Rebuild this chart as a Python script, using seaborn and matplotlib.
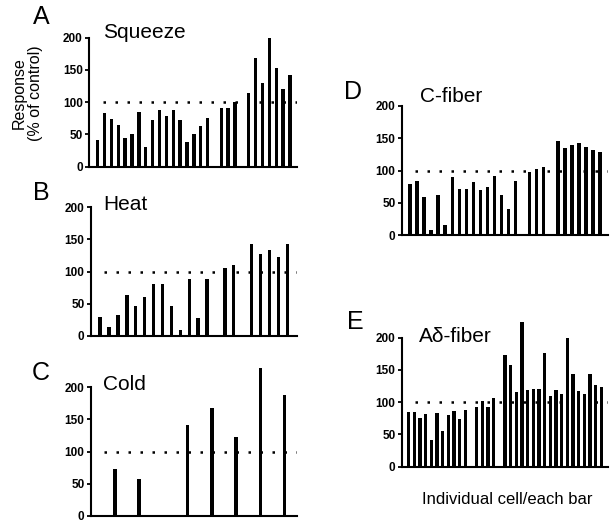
import numpy as np
import pandas as pd
import matplotlib
matplotlib.use('Agg')
import matplotlib.pyplot as plt
import seaborn as sns

# response (% of control) per cell; None = empty slot between groups
squeeze = [42, 83, 74, 64, 45, 51, 85, 30, 72, 88, 79, 88, 72, 38, 50, 63, 75, None,
           91, 91, 100, None, 115, 168, 130, 199, 153, 120, 142]
heat = [29, 14, 33, 64, 46, 61, 80, 80, 47, 10, 89, 28, 89, None,
        106, 110, None, 143, 127, 134, 122, 143]
cold = [73, 58, None, 141, 168, 123, 230, 188]
c_fiber = [79, 83, 59, 8, 62, 15, 90, 72, 71, 82, 69, 74, 91, 62, 41, 83, None,
           97, 103, 105, None, 146, 135, 140, 143, 137, 132, 129]
a_delta = [85, 85, 76, 81, 42, 83, 55, 80, 87, 74, 88, None,
           93, 102, 93, 106, None,
           173, 158, 116, 224, 119, 121, 121, 176, 109, 119, 112, 199, 143, 117, 113, 144, 127, 124]

letters = ['A', 'B', 'C', 'D', 'E']
titles = ['Squeeze', 'Heat', 'Cold', 'C-fiber', 'A\u03b4-fiber']
series = [squeeze, heat, cold, c_fiber, a_delta]
yticks = [0, 50, 100, 150, 200]

sns.set_style('ticks', {'axes.edgecolor': 'black', 'xtick.color': 'black',
                        'ytick.color': 'black', 'text.color': 'black',
                        'axes.labelcolor': 'black'})
plt.rcParams['font.family'] = ['Liberation Sans', 'DejaVu Sans']

W, H = 610, 525
YTOP = 235
AX_H = 64.5 * YTOP / 100   # pixels
BAR_PX = 3.4

# layout in pixels: axis left, y of zero line, axis right, slot padding left/right,
# panel letter position, title position
layout = [
    (89, 166.7, 297, 1.27, 1.02, (41, 17), (103, 33)),
    (90.7, 336, 297, 1.05, 1.09, (41, 193), (103, 204)),
    (90.7, 516, 297, 1.0, 0.51, (41, 373), (103, 385)),
    (401.7, 235, 608, 1.18, 1.13, (353, 92), (420, 96)),
    (401.7, 466.7, 608, 1.23, 1.2, (355, 322), (419, 336)),
]

fig = plt.figure(figsize=(W / 100, H / 100), dpi=100)

for letter, title, vals, (left, y0, right, padl, padr, lpos, tpos) in zip(letters, titles, series, layout):
    ax = fig.add_axes([left / W, (H - y0) / H, (right - left) / W, AX_H / H])
    df = pd.DataFrame({'cell': np.arange(len(vals)), 'resp': vals}).dropna()
    xlo, xhi = -padl, len(vals) - 1 + padr
    width = BAR_PX * (xhi - xlo) / (right - left)
    sns.barplot(data=df, x='cell', y='resp', native_scale=True, width=width,
                color='black', saturation=1, errorbar=None, linewidth=0, ax=ax)
    ax.set_xlim(xlo, xhi)
    ax.set_ylim(0, YTOP)
    ax.axhline(100, xmin=0.065, xmax=1, color='black', lw=1.8,
               linestyle=(0, (1, 3.8)), zorder=0)
    ax.spines[['top', 'right']].set_visible(False)
    ax.spines['left'].set_bounds(0, 200)
    for s in ['left', 'bottom']:
        ax.spines[s].set_linewidth(1.5)
    ax.set_yticks(yticks)
    ax.set_xticks([])
    ax.set_xlabel('')
    ax.set_ylabel('')
    ax.tick_params(axis='y', labelsize=8.5, length=3, width=1.3, pad=1.5)
    for lab in ax.get_yticklabels():
        lab.set_fontweight('bold')
    fig.text(lpos[0] / W, 1 - lpos[1] / H, letter, fontsize=18, ha='center', va='center')
    fig.text(tpos[0] / W, 1 - tpos[1] / H, title, fontsize=15, ha='left', va='center')

fig.text(27 / W, 1 - 93 / H, 'Response\n(% of control)', rotation=90, fontsize=11.5,
         ha='center', va='center', multialignment='center', linespacing=1.1)
fig.text(507 / W, 1 - 500 / H, 'Individual cell/each bar', fontsize=12,
         ha='center', va='center')

fig.savefig('out.png', dpi=100)
